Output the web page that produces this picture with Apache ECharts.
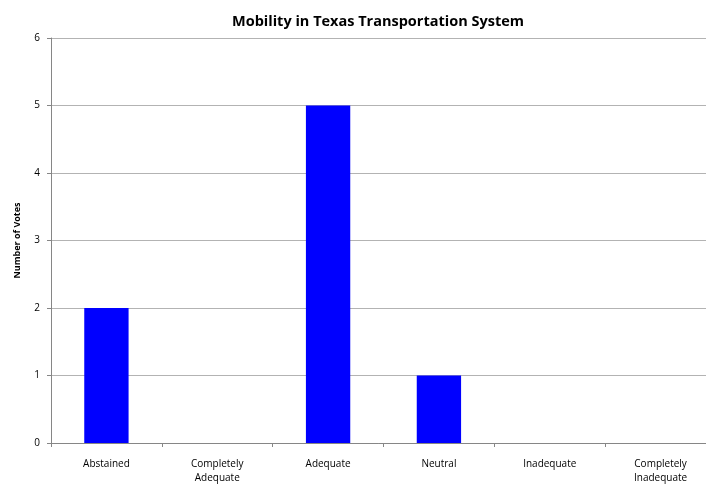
<!DOCTYPE html>
<html>
<head>
<meta charset="utf-8">
<script src="https://cdn.jsdelivr.net/npm/echarts@6/dist/echarts.min.js"></script>
<style>
  html, body { margin: 0; padding: 0; background: #fff; }
  #chart { width: 706px; height: 484px; }
</style>
</head>
<body>
<div id="chart"></div>
<script>
// Survey responses about mobility
const categories = ['Abstained', 'Completely\nAdequate', 'Adequate', 'Neutral', 'Inadequate', 'Completely\nInadequate'];
const votes = [2, 0, 5, 1, 0, 0];
const yTicks = [0, 1, 2, 3, 4, 5, 6];

const chart = echarts.init(document.getElementById('chart'));
const fontFamily = '"Open Sans", "Liberation Sans", sans-serif';

chart.setOption({
  animation: false,
  title: {
    text: 'Mobility in Texas Transportation System',
    left: 227,
    top: 9,
    textStyle: { fontFamily, fontSize: 14.5, fontWeight: 'bold', color: '#000' }
  },
  // plot area runs past the right edge of the canvas
  grid: { left: 51, right: -10, top: 38, bottom: 41, containLabel: false, outerBoundsMode: 'none' },
  xAxis: {
    type: 'category',
    data: categories,
    axisLine: { lineStyle: { color: '#868686', width: 1 } },
    axisTick: { show: true, length: 4, alignWithLabel: false, lineStyle: { color: '#868686' } },
    axisLabel: { fontFamily, fontSize: 10, color: '#000', margin: 14, lineHeight: 14, interval: 0 }
  },
  yAxis: {
    type: 'value',
    min: yTicks[0],
    max: yTicks[yTicks.length - 1],
    interval: 1,
    name: 'Number of Votes',
    nameLocation: 'middle',
    nameGap: 29,
    nameRotate: 90,
    nameTextStyle: { fontFamily, fontSize: 9, fontWeight: 'bold', color: '#000' },
    axisLine: { show: true, lineStyle: { color: '#868686', width: 1 } },
    axisTick: { show: true, length: 4, lineStyle: { color: '#868686' } },
    axisLabel: { fontFamily, fontSize: 10, color: '#000', margin: 11 },
    splitLine: { show: true, lineStyle: { color: '#b3b3b3', width: 1 } }
  },
  series: [{
    type: 'bar',
    data: votes,
    barWidth: '40%',
    itemStyle: { color: '#0000ff', borderWidth: 0 }
  }]
});
</script>
</body>
</html>
